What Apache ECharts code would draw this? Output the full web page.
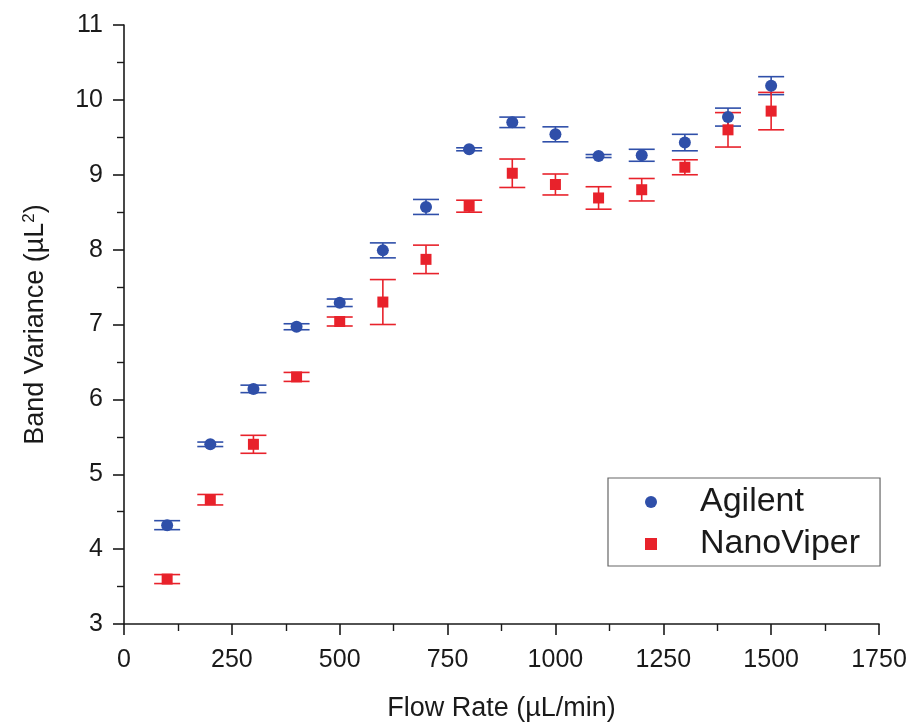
<!DOCTYPE html>
<html><head><meta charset="utf-8">
<script src="https://cdn.jsdelivr.net/npm/echarts@6/dist/echarts.min.js"></script>
<style>html,body{margin:0;padding:0;background:#fff}#c{width:913px;height:727px}</style>
</head><body><div id="c"></div>
<script>
var flowRates = [100,200,300,400,500,600,700,800,900,1000,1100,1200,1300,1400,1500];
var agilentMean = [4.32,5.40,6.14,6.97,7.29,7.99,8.57,9.34,9.70,9.54,9.25,9.26,9.43,9.77,10.19];
var agilentErr  = [0.06,0.03,0.05,0.04,0.05,0.10,0.10,0.02,0.07,0.10,0.02,0.08,0.11,0.12,0.12];
var nanoMean = [3.60,4.66,5.40,6.30,7.04,7.30,7.87,8.58,9.02,8.87,8.69,8.80,9.10,9.60,9.85];
var nanoErr  = [0.06,0.07,0.12,0.06,0.06,0.30,0.19,0.08,0.19,0.14,0.15,0.15,0.10,0.23,0.25];
var xTicks = [0,250,500,750,1000,1250,1500,1750];
var yTicks = [3,4,5,6,7,8,9,10,11];

var BLUE = '#2f4fa9', RED = '#e8222b', INK = '#1a1a1a';
var FONT = "'Liberation Sans',Arial,sans-serif";

function pts(m){ return flowRates.map(function(x,i){ return [x, m[i]]; }); }
function errData(m,e){ return flowRates.map(function(x,i){ return [x, m[i]-e[i], m[i]+e[i]]; }); }
function errRender(color){
  return function(params, api){
    var x = api.value(0);
    var lo = api.coord([x, api.value(1)]);
    var hi = api.coord([x, api.value(2)]);
    var hw = 13;
    var st = {stroke: color, lineWidth: 1.6};
    return {type:'group', children:[
      {type:'line', shape:{x1:lo[0],y1:lo[1],x2:hi[0],y2:hi[1]}, style:st},
      {type:'line', shape:{x1:lo[0]-hw,y1:lo[1],x2:lo[0]+hw,y2:lo[1]}, style:st},
      {type:'line', shape:{x1:hi[0]-hw,y1:hi[1],x2:hi[0]+hw,y2:hi[1]}, style:st}
    ]};
  };
}
function plain(v){ return String(v); }

var chart = echarts.init(document.getElementById('c'));
chart.setOption({
  backgroundColor:'#fff',
  animation:false,
  grid:{left:124, right:34, top:25, bottom:103},
  xAxis:{
    type:'value', min:xTicks[0], max:xTicks[xTicks.length-1], interval:250,
    name:'Flow Rate (µL/min)', nameLocation:'middle', nameGap:71,
    nameTextStyle:{fontFamily:FONT, fontSize:27, color:INK},
    axisLine:{show:true, onZero:false, lineStyle:{color:INK, width:1.6}},
    axisTick:{show:true, inside:false, length:11, lineStyle:{color:INK, width:1.6}},
    minorTick:{show:true, splitNumber:2, length:7, lineStyle:{color:INK, width:1.4}},
    axisLabel:{fontFamily:FONT, fontSize:25, color:INK, margin:24, formatter:plain},
    splitLine:{show:false}
  },
  yAxis:{
    type:'value', min:yTicks[0], max:yTicks[yTicks.length-1], interval:1,
    name:'Band Variance (µL{sup|2})', nameLocation:'middle', nameGap:73,
    nameTextStyle:{fontFamily:FONT, fontSize:27, color:INK,
      rich:{sup:{fontFamily:FONT, fontSize:17, color:INK, verticalAlign:'top', padding:[0,0,13,0]}}},
    axisLine:{show:true, onZero:false, lineStyle:{color:INK, width:1.6}},
    axisTick:{show:true, inside:false, length:11, lineStyle:{color:INK, width:1.6}},
    minorTick:{show:true, splitNumber:2, length:7, lineStyle:{color:INK, width:1.4}},
    axisLabel:{fontFamily:FONT, fontSize:25, color:INK, margin:21, formatter:plain},
    splitLine:{show:false}
  },
  legend:{
    data:['Agilent','NanoViper'],
    orient:'vertical', left:608, top:478,
    backgroundColor:'#fff', borderColor:'#666', borderWidth:1.2,
    padding:[7,20,5,37],
    itemGap:8, itemWidth:12, itemHeight:12,
    textStyle:{fontFamily:FONT, fontSize:34, color:INK, padding:[0,0,0,38]}
  },
  series:[
    {name:'Agilent_err', type:'custom', renderItem:errRender(BLUE), data:errData(agilentMean,agilentErr), z:2, silent:true},
    {name:'NanoViper_err', type:'custom', renderItem:errRender(RED), data:errData(nanoMean,nanoErr), z:2, silent:true},
    {name:'Agilent', type:'scatter', symbol:'circle', symbolSize:12, itemStyle:{color:BLUE, opacity:1}, data:pts(agilentMean), z:3},
    {name:'NanoViper', type:'scatter', symbol:'rect', symbolSize:11, itemStyle:{color:RED, opacity:1}, data:pts(nanoMean), z:4}
  ]
});
</script></body></html>
